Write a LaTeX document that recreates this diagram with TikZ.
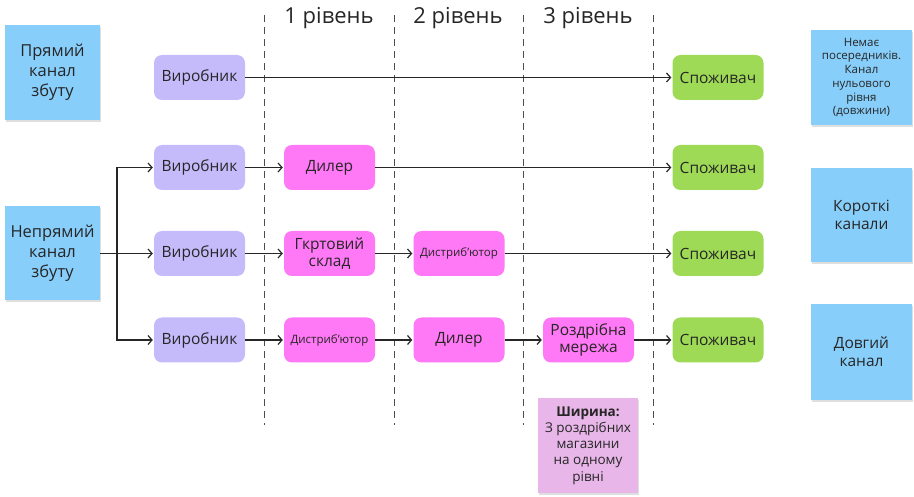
\documentclass[tikz,border=0pt]{standalone}
\usepackage{fontspec}
\setmainfont{Open Sans}
\usetikzlibrary{positioning}
\usetikzlibrary{arrows.meta}
\usetikzlibrary{shadows}

\definecolor{skyblue}{RGB}{135,206,250}
\definecolor{lilac}{RGB}{197,186,250}
\definecolor{pinkbox}{RGB}{255,120,245}
\definecolor{limebox}{RGB}{158,218,85}
\definecolor{orchid}{RGB}{232,182,232}

\tikzset{
  stage/.style={rounded corners=8pt, minimum width=91pt, minimum height=45pt, align=center, inner sep=1pt, text=black!85, font=\fontsize{15.5}{17}\selectfont},
  maker/.style={stage, fill=lilac},
  middle/.style={stage, fill=pinkbox},
  buyer/.style={stage, fill=limebox},
  note/.style={fill=skyblue, minimum width=95pt, minimum height=95pt, align=center, inner sep=1pt, text=black!85, drop shadow={opacity=0.25, shadow xshift=1pt, shadow yshift=-2pt}},
  flow/.style={line width=1.2pt, black!85, -{Straight Barb[length=4pt,width=9pt]}, shorten >=1pt},
  level/.style={black!70, line width=0.7pt, dash pattern=on 7pt off 5pt},
  head/.style={font=\fontsize{22}{24}\selectfont, text=black!85},
}

\begin{document}
\begin{tikzpicture}[x=1pt, y=-1pt]
    \useasboundingbox (0,0) rectangle (914,497);

    % levels
    \foreach \x in {264,394,523,653}
        \draw[level] (\x,15) -- (\x,425);
    \node[head] (lvl1) at (329,18) {1 рівень};
    \node[head] (lvl2) at (458,18) {2 рівень};
    \node[head] (lvl3) at (588,18) {3 рівень};

    % channel types
    \node[note, font=\fontsize{16.5}{20}\selectfont] (direct) at (52.5,72.5) {Прямий\\канал\\збуту};
    \node[note, font=\fontsize{16.5}{20}\selectfont, minimum height=94pt] (indirect) at (52.5,253.5) {Непрямий\\канал\\збуту};
    \node[note, minimum width=101pt, font=\fontsize{11.5}{13.7}\selectfont] (zero) at (861.5,77.5) {Немає\\посередників.\\Канал\\нульового\\рівня\\(довжини)};
    \node[note, minimum width=101pt, minimum height=94pt, font=\fontsize{15.5}{18}\selectfont] (short) at (861.5,215) {Короткі\\канали};
    \node[note, minimum width=101pt, minimum height=96pt, font=\fontsize{15.5}{18}\selectfont] (long) at (861.5,352) {Довгий\\канал};
    \node[note, fill=orchid, minimum width=100pt, font=\fontsize{13.5}{16.3}\selectfont] (width) at (588,445.5) {\textbf{Ширина:}\\З роздрібних\\магазини\\на одному\\рівні};

    % row 1
    \node[maker] (maker1) at (199.5,77.5) {Виробник};
    \node[buyer] (buyer1) at (718,77.5) {Споживач};
    % row 2
    \node[maker] (maker2) at (199.5,167.5) {Виробник};
    \node[middle] (dealer1) at (329.5,167.5) {Дилер};
    \node[buyer] (buyer2) at (718,167.5) {Споживач};
    % row 3
    \node[maker] (maker3) at (199.5,253.5) {Виробник};
    \node[middle] (store) at (329.5,253.5) {Гкртовий\\склад};
    \node[middle, font=\fontsize{11.5}{13}\selectfont] (distr1) at (459,253.5) {Дистриб’ютор};
    \node[buyer] (buyer3) at (718,253.5) {Споживач};
    % row 4
    \node[maker] (maker4) at (199.5,340) {Виробник};
    \node[middle, font=\fontsize{11.5}{13}\selectfont] (distr2) at (329.5,340) {Дистриб’ютор};
    \node[middle] (dealer2) at (459,340) {Дилер};
    \node[middle] (retail) at (588.5,340) {Роздрібна\\мережа};
    \node[buyer] (buyer4) at (718,340) {Споживач};

    % fork
    \coordinate (fork) at (117,253.5);
    \draw[line width=1.2pt, black!85] (indirect.east) -- (fork);
    \draw[flow] (fork) |- (maker2);
    \draw[flow] (fork) -- (maker3);
    \draw[flow] (fork) |- (maker4);

    % flows
    \draw[flow] (maker1) -- (buyer1);
    \draw[flow] (maker2) -- (dealer1);
    \draw[flow] (dealer1) -- (buyer2);
    \draw[flow] (maker3) -- (store);
    \draw[flow] (store) -- (distr1);
    \draw[flow] (distr1) -- (buyer3);
    \draw[flow] (maker4) -- (distr2);
    \draw[flow] (distr2) -- (dealer2);
    \draw[flow] (dealer2) -- (retail);
    \draw[flow] (retail) -- (buyer4);
\end{tikzpicture}
\end{document}
